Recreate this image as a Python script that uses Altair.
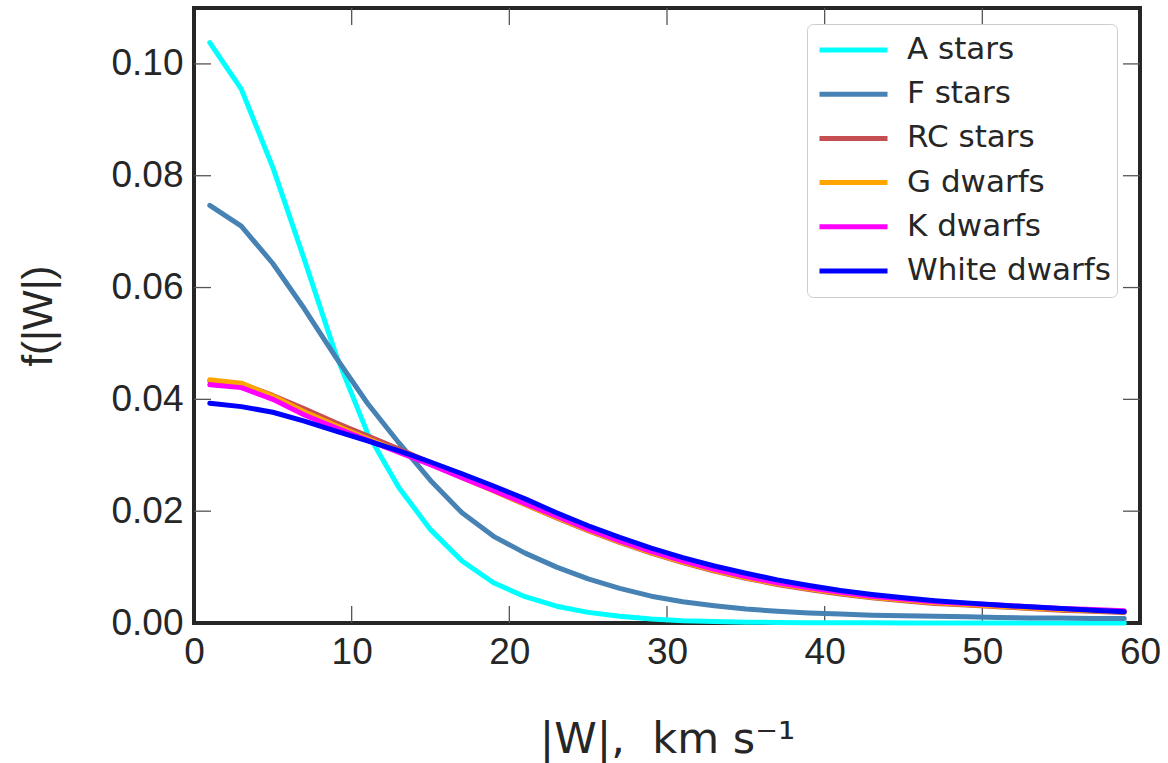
import altair as alt
import pandas as pd

# |W| bin centres, km/s
W = [1, 3, 5, 7, 9, 11, 13, 15, 17, 19, 21, 23, 25, 27, 29,
     31, 33, 35, 37, 39, 41, 43, 45, 47, 49, 51, 53, 55, 57, 59]

series_names = ["A stars", "F stars", "RC stars", "G dwarfs", "K dwarfs", "White dwarfs"]
series_colors = ["#00ffff", "#4682b4", "#c44e52", "#ffa500", "#ff00ff", "#0000ff"]

a_stars = [0.1038, 0.0955, 0.0815, 0.0650, 0.0480, 0.0340, 0.0242, 0.0167, 0.0111, 0.0072,
           0.0047, 0.0030, 0.0019, 0.0012, 0.0007, 0.0004, 0.00025, 0.00015, 0.0001, 0.00006,
           0.00004, 0.00003, 0.00002, 0.00001, 0.00001, 0.00001, 0.0, 0.0, 0.0, 0.0]
f_stars = [0.0747, 0.0710, 0.0643, 0.0562, 0.0475, 0.0393, 0.0322, 0.0255, 0.0197, 0.0155,
           0.0125, 0.0100, 0.0079, 0.0062, 0.0048, 0.0038, 0.0031, 0.0025, 0.0021, 0.0018,
           0.0016, 0.0014, 0.0013, 0.0012, 0.0011, 0.0010, 0.0009, 0.0009, 0.0008, 0.0008]
rc_stars = [0.0433, 0.0428, 0.0407, 0.0383, 0.0358, 0.0335, 0.0311, 0.0287, 0.0262, 0.0237,
            0.0212, 0.0188, 0.0165, 0.0144, 0.0125, 0.0108, 0.0093, 0.0080, 0.0069, 0.0060,
            0.0052, 0.0045, 0.0040, 0.0035, 0.0032, 0.0029, 0.0026, 0.0023, 0.0021, 0.0019]
g_dwarfs = [0.0435, 0.0429, 0.0406, 0.0378, 0.0353, 0.0330, 0.0307, 0.0284, 0.0260, 0.0236,
            0.0212, 0.0189, 0.0166, 0.0145, 0.0126, 0.0109, 0.0094, 0.0081, 0.0070, 0.0061,
            0.0053, 0.0046, 0.0041, 0.0036, 0.0033, 0.0030, 0.0027, 0.0024, 0.0022, 0.0020]
k_dwarfs = [0.0426, 0.0421, 0.0400, 0.0372, 0.0349, 0.0327, 0.0305, 0.0283, 0.0260, 0.0237,
            0.0214, 0.0191, 0.0168, 0.0147, 0.0128, 0.0111, 0.0096, 0.0083, 0.0072, 0.0063,
            0.0055, 0.0048, 0.0043, 0.0038, 0.0035, 0.0032, 0.0029, 0.0026, 0.0024, 0.0022]
white_dwarfs = [0.0393, 0.0387, 0.0377, 0.0361, 0.0343, 0.0326, 0.0308, 0.0288, 0.0267, 0.0245,
                0.0222, 0.0197, 0.0174, 0.0153, 0.0134, 0.0117, 0.0102, 0.0089, 0.0077, 0.0067,
                0.0058, 0.0051, 0.0045, 0.0040, 0.0036, 0.0032, 0.0029, 0.0026, 0.0023, 0.0020]

x_ticks = [10, 20, 30, 40, 50]
y_ticks = [0.02, 0.04, 0.06, 0.08, 0.10]

all_series = [a_stars, f_stars, rc_stars, g_dwarfs, k_dwarfs, white_dwarfs]
rows = []
for order, (name, vals) in enumerate(zip(series_names, all_series)):
    for w, v in zip(W, vals):
        rows.append({"W": w, "f": v, "series": name, "order": order})
df = pd.DataFrame(rows)

PW, PH = 946, 615
TICK = 17
TEXT = "#262626"

xscale = alt.Scale(domain=[0, 60], nice=False, zero=False)
yscale = alt.Scale(domain=[0, 0.11], nice=False, zero=False)

lines = alt.Chart(df).mark_line(strokeWidth=5, strokeCap="round", strokeJoin="round").encode(
    x=alt.X("W:Q", scale=xscale,
            axis=alt.Axis(values=[0, 10, 20, 30, 40, 50, 60], format="d",
                          title="|W|,\u00a0\u00a0km s\u207b\u00b9",
                          titleFont="DejaVu Sans", titleFontSize=43, titleFontWeight="normal",
                          titleColor=TEXT, titlePadding=48,
                          labelFont="Liberation Sans", labelFontSize=37, labelColor=TEXT,
                          labelPadding=11, ticks=False, domain=False, grid=False,
                          labelFlush=False)),
    y=alt.Y("f:Q", scale=yscale,
            axis=alt.Axis(values=[0, 0.02, 0.04, 0.06, 0.08, 0.10], format=".2f",
                          title="f(|W|)",
                          titleFont="Liberation Sans", titleFontSize=42, titleFontWeight="normal",
                          titleColor=TEXT, titlePadding=50,
                          labelFont="Liberation Sans", labelFontSize=37, labelColor=TEXT,
                          labelPadding=11, ticks=False, domain=False, grid=False,
                          labelFlush=False)),
    color=alt.Color("series:N", sort=series_names,
                    scale=alt.Scale(domain=series_names, range=series_colors),
                    legend=alt.Legend(title=None, orient="none", legendX=613, legendY=16,
                                      symbolType="stroke", symbolSize=4624, symbolStrokeWidth=5,
                                      symbolOffset=4, labelOffset=17, clipHeight=40,
                                      rowPadding=4.2, padding=6,
                                      labelFont="DejaVu Sans", labelFontSize=31,
                                      labelColor=TEXT, labelLimit=400,
                                      strokeColor="#cccccc", fillColor="white",
                                      cornerRadius=6)),
    order=alt.Order("order:Q"),
)

tick_color = "#555555"
xt = pd.DataFrame({"v": x_ticks})
yt = pd.DataFrame({"v": y_ticks})

bottom_ticks = alt.Chart(xt).mark_rule(color=tick_color, strokeWidth=1.3).encode(
    x=alt.X("v:Q", scale=xscale), y=alt.value(PH), y2=alt.value(PH - TICK))
top_ticks = alt.Chart(xt).mark_rule(color=tick_color, strokeWidth=1.3).encode(
    x=alt.X("v:Q", scale=xscale), y=alt.value(0), y2=alt.value(TICK))
left_ticks = alt.Chart(yt).mark_rule(color=tick_color, strokeWidth=1.3).encode(
    y=alt.Y("v:Q", scale=yscale), x=alt.value(0), x2=alt.value(TICK))
right_ticks = alt.Chart(yt).mark_rule(color=tick_color, strokeWidth=1.3).encode(
    y=alt.Y("v:Q", scale=yscale), x=alt.value(PW), x2=alt.value(PW - TICK))

chart = alt.layer(bottom_ticks, top_ticks, left_ticks, right_ticks, lines).properties(
    width=PW, height=PH,
    autosize=alt.AutoSizeParams(type="none"),
    padding={"left": 194, "top": 8, "right": 28, "bottom": 140},
    background="white",
).configure_view(stroke=TEXT, strokeWidth=4)

chart.save("out.html", embed_options={"renderer": "svg", "actions": False})
